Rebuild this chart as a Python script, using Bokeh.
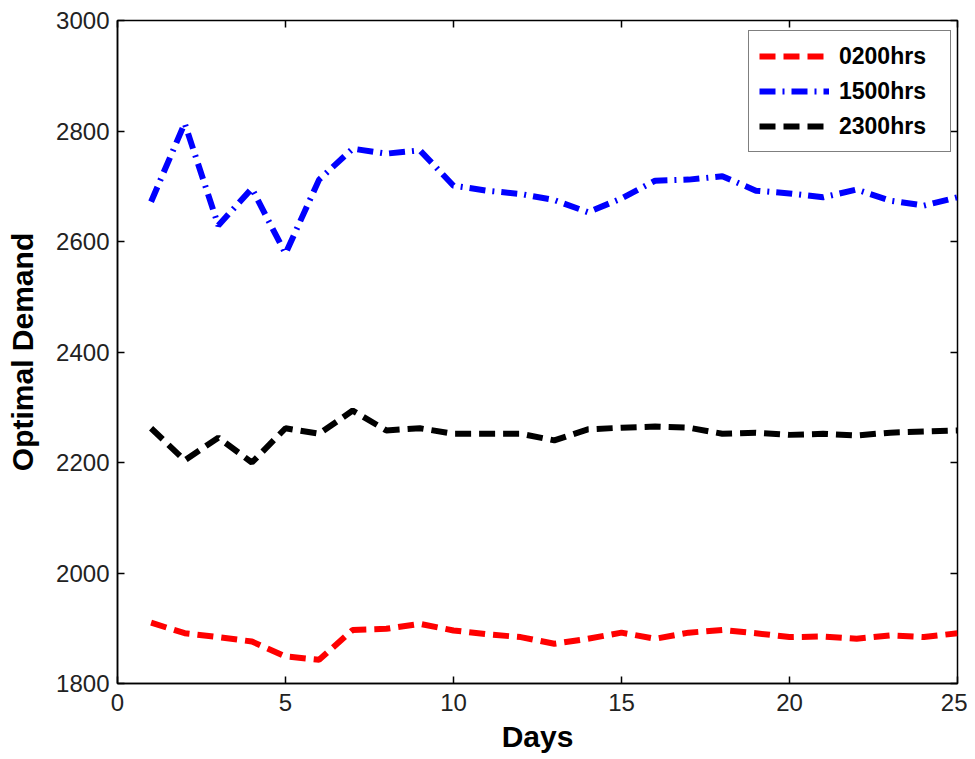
from bokeh.plotting import figure
from bokeh.models import Legend, LegendItem, LinearAxis, FixedTicker, Range1d
from bokeh.embed import file_html
from bokeh.resources import INLINE

days = list(range(1, 26))
demand_0200 = [1910, 1891, 1884, 1876, 1849, 1843, 1897, 1899, 1908, 1896, 1889, 1884, 1872,
               1881, 1892, 1881, 1892, 1897, 1891, 1884, 1885, 1881, 1887, 1884, 1891]
demand_1500 = [2672, 2814, 2629, 2696, 2578, 2712, 2768, 2759, 2765, 2701, 2692, 2686, 2675,
               2653, 2678, 2710, 2712, 2718, 2692, 2687, 2680, 2694, 2674, 2665, 2680]
demand_2300 = [2262, 2204, 2245, 2200, 2262, 2252, 2294, 2258, 2262, 2252, 2252, 2252, 2240,
               2260, 2263, 2265, 2263, 2252, 2254, 2250, 2252, 2249, 2254, 2256, 2258]
series_labels = ["0200hrs", "1500hrs", "2300hrs"]
x_ticks = [0, 5, 10, 15, 20, 25]
y_ticks = [1800, 2000, 2200, 2400, 2600, 2800, 3000]

FONT = "Liberation Sans"

p = figure(width=967, height=755, output_backend="svg", toolbar_location=None,
           x_range=Range1d(0, 25), y_range=Range1d(1800, 3000),
           min_border_left=117, min_border_right=10, min_border_top=20, min_border_bottom=65)
p.xgrid.visible = False
p.ygrid.visible = False
p.outline_line_color = "black"
p.outline_line_width = 1.5

for ax, ticks in ((p.xaxis[0], x_ticks), (p.yaxis[0], y_ticks)):
    ax.ticker = FixedTicker(ticks=ticks)
    ax.major_tick_in = 7
    ax.major_tick_out = 0
    ax.minor_tick_line_color = None
    ax.major_label_text_font = FONT
    ax.major_label_text_font_size = "24px"
    ax.major_label_text_color = "#222222"
    ax.axis_line_color = "black"
    ax.axis_line_width = 1.5
    ax.major_tick_line_width = 1.5
    ax.axis_label_text_font = FONT
    ax.axis_label_text_font_size = "30px"
    ax.axis_label_text_font_style = "bold"
    ax.axis_label_text_color = "black"

p.xaxis[0].axis_label = "Days"
p.xaxis[0].major_label_standoff = 10
p.xaxis[0].axis_label_standoff = 6
p.yaxis[0].axis_label = "Optimal Demand"
p.yaxis[0].major_label_standoff = 8
p.yaxis[0].axis_label_standoff = 14

top_ax = LinearAxis(ticker=FixedTicker(ticks=x_ticks), major_tick_in=7, major_tick_out=0,
                    minor_tick_line_color=None, major_label_text_font_size="1px",
                    major_label_text_color=None, major_label_standoff=0,
                    axis_line_color=None, major_tick_line_width=1.5)
right_ax = LinearAxis(ticker=FixedTicker(ticks=y_ticks), major_tick_in=7, major_tick_out=0,
                      minor_tick_line_color=None, major_label_text_font_size="1px",
                      major_label_text_color=None, major_label_standoff=0,
                      axis_line_color=None, major_tick_line_width=1.5)
p.add_layout(top_ax, "above")
p.add_layout(right_ax, "right")

r1 = p.line(days, demand_0200, line_color="#ff0000", line_width=6, line_dash="16 8")
r2 = p.line(days, demand_1500, line_color="#0000ff", line_width=6, line_dash="16 7 2 7")
r3 = p.line(days, demand_2300, line_color="black", line_width=6, line_dash="16 8")

legend = Legend(items=[LegendItem(label=series_labels[0], renderers=[r1]),
                       LegendItem(label=series_labels[1], renderers=[r2]),
                       LegendItem(label=series_labels[2], renderers=[r3])],
                location=(631, 531))
legend.label_text_font = FONT
legend.label_text_font_size = "23px"
legend.label_text_font_style = "bold"
legend.label_text_color = "black"
legend.glyph_width = 70
legend.glyph_height = 30
legend.label_height = 30
legend.label_width = 101
legend.label_standoff = 10
legend.spacing = 5
legend.padding = 10
legend.margin = 0
legend.border_line_color = "black"
legend.border_line_width = 1.5
legend.background_fill_alpha = 1
p.add_layout(legend)

open("out.html", "w").write(file_html(p, INLINE))
